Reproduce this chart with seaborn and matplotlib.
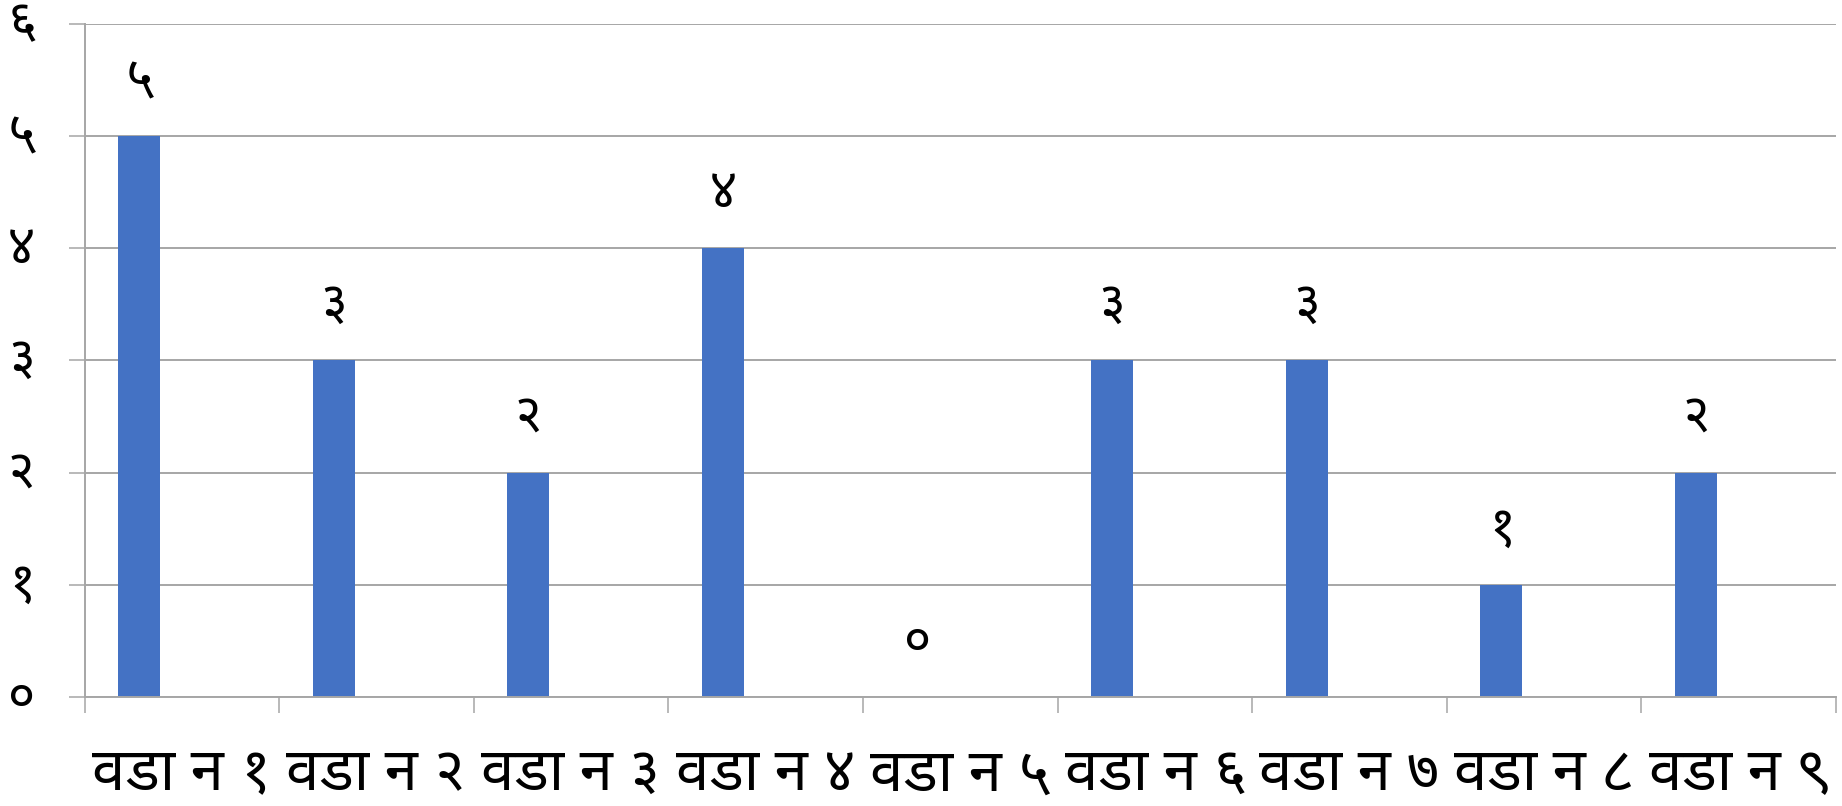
import matplotlib
matplotlib.use("Agg")
import matplotlib.pyplot as plt
from matplotlib import font_manager as fm
import numpy as np
import pandas as pd
import seaborn as sns

# ---- data ----
wards = ["वडा न १", "वडा न २", "वडा न ३", "वडा न ४", "वडा न ५",
         "वडा न ६", "वडा न ७", "वडा न ८", "वडा न ९"]
counts = [5, 3, 2, 4, 0, 3, 3, 1, 2]
y_ticks = [0, 1, 2, 3, 4, 5, 6]

DEV_DIGITS = str.maketrans("0123456789", "०१२३४५६७८९")
def dev(n):
    return str(n).translate(DEV_DIGITS)

# ---- font with Devanagari ----
family = "DejaVu Sans"
prefs = ["NotoSansDevanagari-Regular", "NotoSansDevanagariUI-Regular",
         "NotoSansDevanagari[", "Mukta-Regular", "Hind-Regular"]
files = fm.findSystemFonts()
chosen = None
for p in prefs:
    for f in files:
        if p in f.split("/")[-1]:
            chosen = f
            break
    if chosen:
        break
if chosen:
    fm.fontManager.addfont(chosen)
    family = fm.FontProperties(fname=chosen).get_name()

sns.set_theme(style="white")
plt.rcParams["font.family"] = [family, "DejaVu Sans"]

df = pd.DataFrame({"ward": wards, "count": counts})
df["pos"] = np.arange(len(wards)) + 0.28

W, H = 1842, 806
fig = plt.figure(figsize=(W / 100, H / 100), dpi=100)
ax = fig.add_axes([84.6 / W, (H - 697) / H, (1836 - 84.6) / W, (697 - 23.5) / H])

sns.barplot(data=df, x="pos", y="count", native_scale=True, width=0.216,
            color="#4472C4", saturation=1, edgecolor="none", ax=ax, errorbar=None)

grid_c = "#a6a6a6"
num_size = 38
ax.set_xlim(0, len(wards))
ax.set_ylim(0, 6)
ax.set_yticks(y_ticks)
ax.set_yticklabels([dev(v) for v in y_ticks])
ax.yaxis.grid(True, color=grid_c, linewidth=1.4)
ax.xaxis.grid(False)
ax.set_axisbelow(True)

ax.set_xticks(np.arange(len(wards) + 1))
ax.set_xticklabels([])
ax.set_xticks(np.arange(len(wards)) + 0.5, minor=True)
ax.set_xticklabels(wards, minor=True)
ax.tick_params(axis="x", which="major", direction="out", length=11.5, width=1.1,
               color=grid_c, bottom=True)
ax.tick_params(axis="x", which="minor", length=0, pad=34, labelsize=43, labelcolor="black")
ax.tick_params(axis="y", which="major", direction="out", length=11.5, width=1.1,
               color=grid_c, left=True, labelsize=num_size, labelcolor="black")
for lab in ax.get_yticklabels():
    lab.set_horizontalalignment("center")
    lab.set_verticalalignment("center")
ax.tick_params(axis="y", pad=34)

for s in ["top", "right"]:
    ax.spines[s].set_visible(False)
for s in ["left", "bottom"]:
    ax.spines[s].set_color(grid_c)
    ax.spines[s].set_linewidth(1.4)

ax.set_xlabel("")
ax.set_ylabel("")

for p, v in zip(df["pos"], df["count"]):
    ax.annotate(dev(v), (p, v), xytext=(0, 40), textcoords="offset points",
                ha="center", va="center", fontsize=num_size, color="black")

fig.savefig("out.png", dpi=100)
